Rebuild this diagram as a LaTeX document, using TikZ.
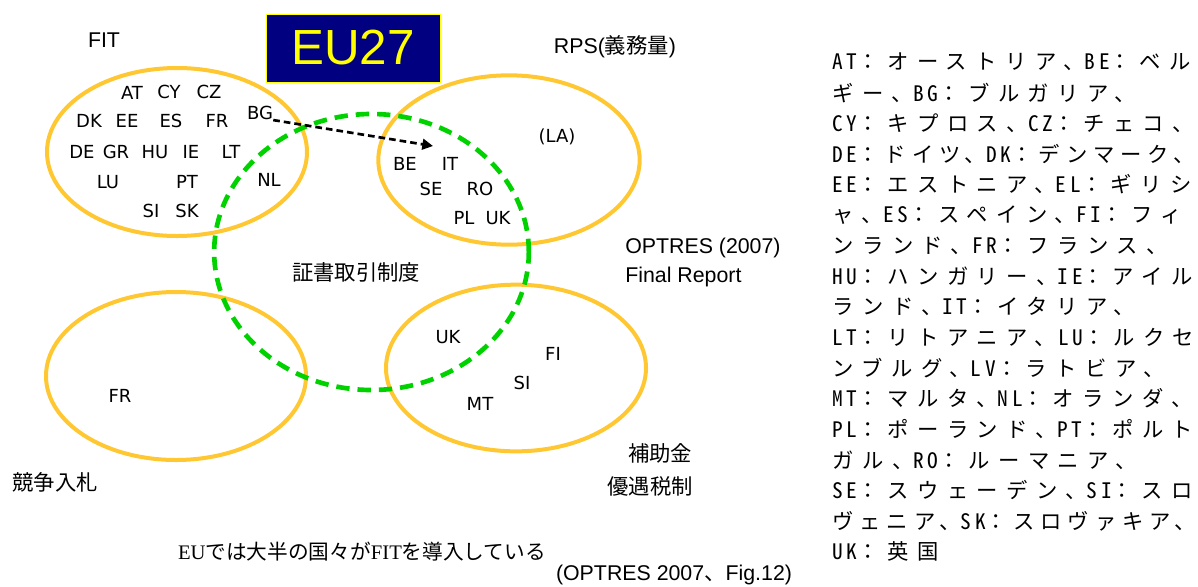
\documentclass[tikz,border=0pt]{standalone}
\usepackage{fontspec}
\setmainfont{Liberation Sans}
\newfontfamily\jp{Noto Sans CJK JP}
\newfontfamily\jpls[LetterSpace=40]{Noto Sans CJK JP}
\newfontfamily\jplstight[LetterSpace=28]{Noto Sans CJK JP}
\newfontfamily\jplat[RawFeature=+hwid, LetterSpace=18]{Noto Sans CJK JP}
\newfontfamily\cc{DejaVu Sans}
\newfontfamily\serifl{Liberation Serif}
\newcommand\latn[1]{{\jplat #1}}
\usetikzlibrary{shapes.geometric, arrows.meta}
\definecolor{ringorange}{RGB}{255,200,50}
\definecolor{certgreen}{RGB}{0,210,0}
\definecolor{boxnavy}{RGB}{0,0,128}
\definecolor{euyellow}{RGB}{255,255,0}
\begin{document}
\begin{tikzpicture}[x=0.75pt,y=-0.75pt,
 ring/.style={ellipse, draw=ringorange, line width=3pt, inner sep=0pt},
 cert/.style={ellipse, draw=certgreen, line width=3.5pt, dash pattern=on 10pt off 6pt, inner sep=0pt},
 code/.style={font=\cc\fontsize{13.5}{16}\selectfont, inner sep=0pt},
 lbl/.style={font=\fontsize{16}{19}\selectfont, inner sep=0pt},
 jlbl/.style={font=\jp\fontsize{16}{19}\selectfont, inner sep=0pt},
 legend/.style={font=\jpls\fontsize{16}{18}\selectfont, anchor=west, inner sep=0pt},
 legendtight/.style={font=\jplstight\fontsize{16}{18}\selectfont, anchor=west, inner sep=0pt},
]
\useasboundingbox[fill=white] (0,0) rectangle (1198,586);

% ellipses
\node[ring, minimum width=195pt, minimum height=126pt] (fit) at (177,152) {};
\node[ring, minimum width=196pt, minimum height=127pt] (rps) at (509,160) {};
\node[ring, minimum width=195pt, minimum height=126pt] (tender) at (176,376) {};
\node[ring, minimum width=195pt, minimum height=125pt] (subsidy) at (516,368) {};
\node[cert, minimum width=236pt, minimum height=207pt] (cert) at (371.5,252) {};

% title box
\node[fill=boxnavy, draw=euyellow, line width=0.75pt, minimum width=130.5pt, minimum height=51pt,
      inner sep=0pt, text=euyellow, font=\fontsize{37}{40}\selectfont] (eu) at (353,48) {EU27};

% category labels
\node[lbl] (fitl) at (104,40) {FIT};
\node[lbl] (rpsl) at (615,47) {RPS({\jp 義務量})};
\node[lbl, anchor=west] (opt1) at (625,248) {OPTRES (2007)};
\node[lbl, anchor=west] (opt2) at (625,277) {Final Report};
\node[jlbl] (certl) at (356,272) {証書取引制度};
\node[jlbl] (tenderl) at (55,482) {競争入札};
\node[jlbl] (subl1) at (660,453) {補助金};
\node[jlbl] (subl2) at (650,486) {優遇税制};

% FIT countries
\node[code] (at) at (132,93) {AT};
\node[code] (cy) at (169,92) {CY};
\node[code] (cz) at (209,92) {CZ};
\node[code] (bg) at (260,113) {BG};
\node[code] (dk) at (89,121) {DK};
\node[code] (ee) at (127,121) {EE};
\node[code] (es) at (171,121) {ES};
\node[code] (fr1) at (217,121) {FR};
\node[code] (de) at (82,152) {DE};
\node[code] (gr) at (116,152) {GR};
\node[code] (hu) at (155,152) {HU};
\node[code] (ie) at (191,152) {IE};
\node[code] (lt) at (231,152) {LT};
\node[code] (lu) at (108,182) {LU};
\node[code] (pt) at (187,182) {PT};
\node[code] (nl) at (269,180) {NL};
\node[code] (si1) at (151,211) {SI};
\node[code] (sk) at (187,211) {SK};

% RPS countries
\node[code] (la) at (557,137) {(LA)};
\node[code] (be) at (405,164) {BE};
\node[code] (it) at (450,164) {IT};
\node[code] (se) at (431,189) {SE};
\node[code] (ro) at (480,189) {RO};
\node[code] (pl) at (464,218) {PL};
\node[code] (uk1) at (498,218) {UK};

% tender
\node[code] (fr2) at (120,396) {FR};

% subsidy
\node[code] (uk2) at (448,337) {UK};
\node[code] (fi) at (553,354) {FI};
\node[code] (si2) at (522,383) {SI};
\node[code] (mt) at (480,404) {MT};

% BG arrow
\coordinate (arrowend) at (433,146);
\draw[black, line width=2pt, dash pattern=on 5pt off 3pt,
      -{Triangle[length=8pt,width=8pt]}] (bg.south east) -- (arrowend);

% notes
\node[font=\fontsize{15.5}{18}\selectfont, inner sep=0pt] (note) at (362,552)
  {{\serifl EU}{\jp では大半の国々が}{\serifl FIT}{\jp を導入している}};
\node[lbl] (src) at (674,575) {(OPTRES 2007{\jp 、}Fig.12)};

% legend
\foreach \t [count=\i] in {
 {\latn{AT}：オーストリア、\latn{BE}：ベル},
 {ギー、\latn{BG}：ブルガリア、},
 {\latn{CY}：キプロス、\latn{CZ}：チェコ、},
 {},
 {\latn{EE}：エストニア、\latn{EL}：ギリシ},
 {ャ、\latn{ES}：スペイン、\latn{FI}：フィ},
 {ンランド、\latn{FR}：フランス、},
 {\latn{HU}：ハンガリー、\latn{IE}：アイル},
 {ランド、\latn{IT}：イタリア、},
 {\latn{LT}：リトアニア、\hspace{2pt}\latn{LU}：ルクセ},
 {ンブルグ、\latn{LV}：ラトビア、},
 {\latn{MT}：マルタ、\latn{NL}：オランダ、},
 {\latn{PL}：ポーランド、\latn{PT}：ポルト},
 {ガル、\latn{RO}：ルーマニア、},
 {\latn{SE}：スウェーデン、\latn{SI}：スロ},
 {},
 {\latn{UK}：英国}}
 {\ifx\t\empty\else\node[legend] (leg\i) at (832,{62+30.6*(\i-1)}) {\t};\fi}
\node[legendtight] (leg4) at (832,{62+30.6*3}) {\latn{DE}：ドイツ、\latn{DK}：デンマーク、};
\node[legendtight] (leg16) at (832,{62+30.6*15}) {ヴェニア、\latn{SK}：スロヴァキア、};
\end{tikzpicture}
\end{document}
